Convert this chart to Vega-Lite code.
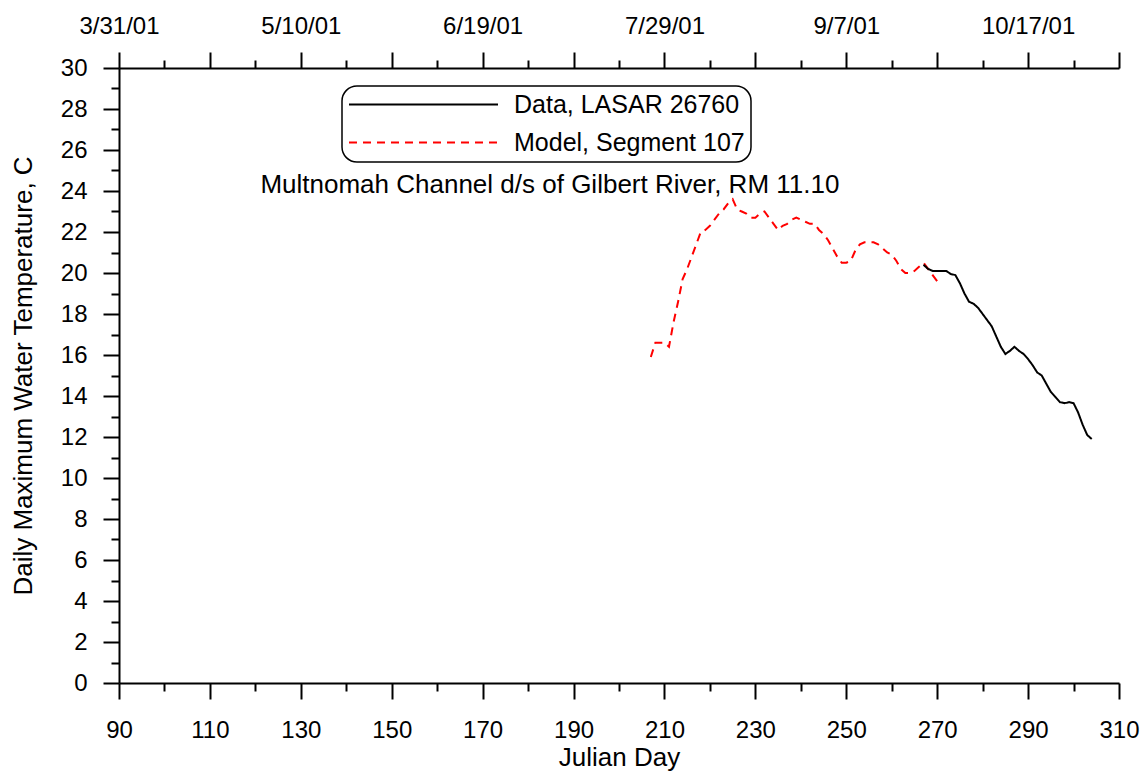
{
  "$schema": "https://vega.github.io/schema/vega-lite/v6.json",
  "width": 1000,
  "height": 615,
  "autosize": {"type": "none"},
  "padding": {"left": 119, "top": 68, "right": 29, "bottom": 90},
  "background": "white",
  "config": {
    "view": {"stroke": null},
    "font": "Liberation Sans",
    "axis": {
      "domainColor": "black", "domainWidth": 2, "tickColor": "black", "tickWidth": 2,
      "labelColor": "black", "titleColor": "black", "labelFont": "Liberation Sans", "titleFont": "Liberation Sans",
      "labelFontSize": 24, "titleFontSize": 26, "titleFontWeight": "normal", "grid": false,
      "labelOverlap": false, "labelFlush": false, "labelBound": false
    }
  },
  "data": {
    "values": [
      {"day": 207, "temp": 15.9, "series": "Model, Segment 107"},
      {"day": 208, "temp": 16.6, "series": "Model, Segment 107"},
      {"day": 209, "temp": 16.6, "series": "Model, Segment 107"},
      {"day": 210, "temp": 16.6, "series": "Model, Segment 107"},
      {"day": 211, "temp": 16.4, "series": "Model, Segment 107"},
      {"day": 212, "temp": 17.6, "series": "Model, Segment 107"},
      {"day": 213, "temp": 18.6, "series": "Model, Segment 107"},
      {"day": 214, "temp": 19.7, "series": "Model, Segment 107"},
      {"day": 215, "temp": 20.2, "series": "Model, Segment 107"},
      {"day": 216, "temp": 20.8, "series": "Model, Segment 107"},
      {"day": 217, "temp": 21.4, "series": "Model, Segment 107"},
      {"day": 218, "temp": 22.0, "series": "Model, Segment 107"},
      {"day": 219, "temp": 22.1, "series": "Model, Segment 107"},
      {"day": 220, "temp": 22.3, "series": "Model, Segment 107"},
      {"day": 221, "temp": 22.6, "series": "Model, Segment 107"},
      {"day": 222, "temp": 22.9, "series": "Model, Segment 107"},
      {"day": 223, "temp": 23.1, "series": "Model, Segment 107"},
      {"day": 224, "temp": 23.4, "series": "Model, Segment 107"},
      {"day": 225, "temp": 23.6, "series": "Model, Segment 107"},
      {"day": 226, "temp": 23.1, "series": "Model, Segment 107"},
      {"day": 227, "temp": 23.0, "series": "Model, Segment 107"},
      {"day": 228, "temp": 22.9, "series": "Model, Segment 107"},
      {"day": 229, "temp": 22.7, "series": "Model, Segment 107"},
      {"day": 230, "temp": 22.7, "series": "Model, Segment 107"},
      {"day": 231, "temp": 22.9, "series": "Model, Segment 107"},
      {"day": 232, "temp": 23.0, "series": "Model, Segment 107"},
      {"day": 233, "temp": 22.7, "series": "Model, Segment 107"},
      {"day": 234, "temp": 22.4, "series": "Model, Segment 107"},
      {"day": 235, "temp": 22.1, "series": "Model, Segment 107"},
      {"day": 236, "temp": 22.3, "series": "Model, Segment 107"},
      {"day": 237, "temp": 22.4, "series": "Model, Segment 107"},
      {"day": 238, "temp": 22.6, "series": "Model, Segment 107"},
      {"day": 239, "temp": 22.7, "series": "Model, Segment 107"},
      {"day": 240, "temp": 22.6, "series": "Model, Segment 107"},
      {"day": 241, "temp": 22.5, "series": "Model, Segment 107"},
      {"day": 242, "temp": 22.4, "series": "Model, Segment 107"},
      {"day": 243, "temp": 22.4, "series": "Model, Segment 107"},
      {"day": 244, "temp": 22.1, "series": "Model, Segment 107"},
      {"day": 245, "temp": 21.9, "series": "Model, Segment 107"},
      {"day": 246, "temp": 21.6, "series": "Model, Segment 107"},
      {"day": 247, "temp": 21.2, "series": "Model, Segment 107"},
      {"day": 248, "temp": 20.8, "series": "Model, Segment 107"},
      {"day": 249, "temp": 20.5, "series": "Model, Segment 107"},
      {"day": 250, "temp": 20.5, "series": "Model, Segment 107"},
      {"day": 251, "temp": 20.6, "series": "Model, Segment 107"},
      {"day": 252, "temp": 21.1, "series": "Model, Segment 107"},
      {"day": 253, "temp": 21.4, "series": "Model, Segment 107"},
      {"day": 254, "temp": 21.5, "series": "Model, Segment 107"},
      {"day": 255, "temp": 21.5, "series": "Model, Segment 107"},
      {"day": 256, "temp": 21.5, "series": "Model, Segment 107"},
      {"day": 257, "temp": 21.4, "series": "Model, Segment 107"},
      {"day": 258, "temp": 21.2, "series": "Model, Segment 107"},
      {"day": 259, "temp": 21.0, "series": "Model, Segment 107"},
      {"day": 260, "temp": 20.9, "series": "Model, Segment 107"},
      {"day": 261, "temp": 20.6, "series": "Model, Segment 107"},
      {"day": 262, "temp": 20.2, "series": "Model, Segment 107"},
      {"day": 263, "temp": 20.0, "series": "Model, Segment 107"},
      {"day": 264, "temp": 20.0, "series": "Model, Segment 107"},
      {"day": 265, "temp": 20.1, "series": "Model, Segment 107"},
      {"day": 266, "temp": 20.3, "series": "Model, Segment 107"},
      {"day": 267, "temp": 20.5, "series": "Model, Segment 107"},
      {"day": 268, "temp": 20.2, "series": "Model, Segment 107"},
      {"day": 269, "temp": 19.9, "series": "Model, Segment 107"},
      {"day": 270, "temp": 19.6, "series": "Model, Segment 107"},
      {"day": 267, "temp": 20.4, "series": "Data, LASAR 26760"},
      {"day": 268, "temp": 20.2, "series": "Data, LASAR 26760"},
      {"day": 269, "temp": 20.1, "series": "Data, LASAR 26760"},
      {"day": 270, "temp": 20.1, "series": "Data, LASAR 26760"},
      {"day": 271, "temp": 20.1, "series": "Data, LASAR 26760"},
      {"day": 272, "temp": 20.1, "series": "Data, LASAR 26760"},
      {"day": 273, "temp": 19.95, "series": "Data, LASAR 26760"},
      {"day": 274, "temp": 19.9, "series": "Data, LASAR 26760"},
      {"day": 275, "temp": 19.5, "series": "Data, LASAR 26760"},
      {"day": 276, "temp": 19.0, "series": "Data, LASAR 26760"},
      {"day": 277, "temp": 18.6, "series": "Data, LASAR 26760"},
      {"day": 278, "temp": 18.5, "series": "Data, LASAR 26760"},
      {"day": 279, "temp": 18.3, "series": "Data, LASAR 26760"},
      {"day": 280, "temp": 18.0, "series": "Data, LASAR 26760"},
      {"day": 281, "temp": 17.7, "series": "Data, LASAR 26760"},
      {"day": 282, "temp": 17.4, "series": "Data, LASAR 26760"},
      {"day": 283, "temp": 16.9, "series": "Data, LASAR 26760"},
      {"day": 284, "temp": 16.4, "series": "Data, LASAR 26760"},
      {"day": 285, "temp": 16.05, "series": "Data, LASAR 26760"},
      {"day": 286, "temp": 16.2, "series": "Data, LASAR 26760"},
      {"day": 287, "temp": 16.4, "series": "Data, LASAR 26760"},
      {"day": 288, "temp": 16.2, "series": "Data, LASAR 26760"},
      {"day": 289, "temp": 16.05, "series": "Data, LASAR 26760"},
      {"day": 290, "temp": 15.8, "series": "Data, LASAR 26760"},
      {"day": 291, "temp": 15.5, "series": "Data, LASAR 26760"},
      {"day": 292, "temp": 15.15, "series": "Data, LASAR 26760"},
      {"day": 293, "temp": 15.0, "series": "Data, LASAR 26760"},
      {"day": 294, "temp": 14.6, "series": "Data, LASAR 26760"},
      {"day": 295, "temp": 14.2, "series": "Data, LASAR 26760"},
      {"day": 296, "temp": 13.95, "series": "Data, LASAR 26760"},
      {"day": 297, "temp": 13.7, "series": "Data, LASAR 26760"},
      {"day": 298, "temp": 13.65, "series": "Data, LASAR 26760"},
      {"day": 299, "temp": 13.7, "series": "Data, LASAR 26760"},
      {"day": 300, "temp": 13.65, "series": "Data, LASAR 26760"},
      {"day": 301, "temp": 13.2, "series": "Data, LASAR 26760"},
      {"day": 302, "temp": 12.6, "series": "Data, LASAR 26760"},
      {"day": 303, "temp": 12.1, "series": "Data, LASAR 26760"},
      {"day": 304, "temp": 11.9, "series": "Data, LASAR 26760"}
    ]
  },
  "resolve": {"axis": {"x": "independent", "y": "independent"}},
  "layer": [
    {
      "mark": {"type": "line", "strokeWidth": 2},
      "encoding": {
        "x": {
          "field": "day", "type": "quantitative",
          "scale": {"domain": [90, 310], "nice": false, "zero": false},
          "axis": {
            "orient": "bottom",
            "values": [90, 100, 110, 120, 130, 140, 150, 160, 170, 180, 190, 200, 210, 220, 230, 240, 250, 260, 270, 280, 290, 300, 310],
            "tickSize": {"condition": {"test": "datum.value % 20 === 10", "value": 16}, "value": 8},
            "labelExpr": "datum.value % 20 === 10 ? datum.label : ''",
            "labelPadding": 19,
            "title": "Julian Day",
            "titlePadding": 2
          }
        },
        "y": {
          "field": "temp", "type": "quantitative",
          "scale": {"domain": [0, 30], "nice": false},
          "axis": {
            "orient": "left",
            "values": [0, 1, 2, 3, 4, 5, 6, 7, 8, 9, 10, 11, 12, 13, 14, 15, 16, 17, 18, 19, 20, 21, 22, 23, 24, 25, 26, 27, 28, 29, 30],
            "tickSize": {"condition": {"test": "datum.value % 2 === 0", "value": 16}, "value": 8},
            "labelExpr": "datum.value % 2 === 0 ? datum.label : ''",
            "labelPadding": 16,
            "title": "Daily Maximum Water Temperature, C",
            "titlePadding": 24
          }
        },
        "color": {
          "field": "series", "type": "nominal",
          "scale": {"domain": ["Data, LASAR 26760", "Model, Segment 107"], "range": ["black", "red"]},
          "legend": {
            "title": null, "orient": "none", "legendX": 223, "legendY": 18,
            "symbolType": "stroke", "symbolSize": 22201, "symbolStrokeWidth": 2,
            "labelFontSize": 25, "labelFont": "Liberation Sans", "labelColor": "black", "labelOffset": 15, "labelLimit": 400,
            "strokeColor": "black", "cornerRadius": 15, "padding": 6, "rowPadding": 12, "clipHeight": 25,
            "encode": {"legend": {"update": {"strokeWidth": {"value": 1.5}}}}
          }
        },
        "strokeDash": {
          "field": "series", "type": "nominal",
          "scale": {"domain": ["Data, LASAR 26760", "Model, Segment 107"], "range": [[1, 0], [8, 6]]},
          "legend": {
            "title": null, "orient": "none", "legendX": 223, "legendY": 18,
            "symbolType": "stroke", "symbolSize": 22201, "symbolStrokeWidth": 2,
            "labelFontSize": 25, "labelFont": "Liberation Sans", "labelColor": "black", "labelOffset": 15, "labelLimit": 400,
            "strokeColor": "black", "cornerRadius": 15, "padding": 6, "rowPadding": 12, "clipHeight": 25,
            "encode": {"legend": {"update": {"strokeWidth": {"value": 1.5}}}}
          }
        }
      }
    },
    {
      "data": {"values": [{"label": "Multnomah Channel d/s of Gilbert River, RM 11.10"}]},
      "mark": {"type": "text", "fontSize": 26, "font": "Liberation Sans", "align": "center", "baseline": "alphabetic", "color": "black"},
      "encoding": {
        "x": {
          "datum": 184.8, "type": "quantitative",
          "axis": {
            "orient": "top",
            "values": [90, 100, 110, 120, 130, 140, 150, 160, 170, 180, 190, 200, 210, 220, 230, 240, 250, 260, 270, 280, 290, 300, 310],
            "tickSize": {"condition": {"test": "datum.value % 20 === 10", "value": 16}, "value": 8},
            "labelExpr": "(datum.value - 90) % 40 === 0 ? timeFormat(datetime(2001, 0, datum.value), '%-m/%-d/%y') : ''",
            "labelPadding": 14,
            "title": null
          }
        },
        "y": {"datum": 23.9, "type": "quantitative", "axis": null},
        "text": {"field": "label"}
      }
    }
  ]
}
